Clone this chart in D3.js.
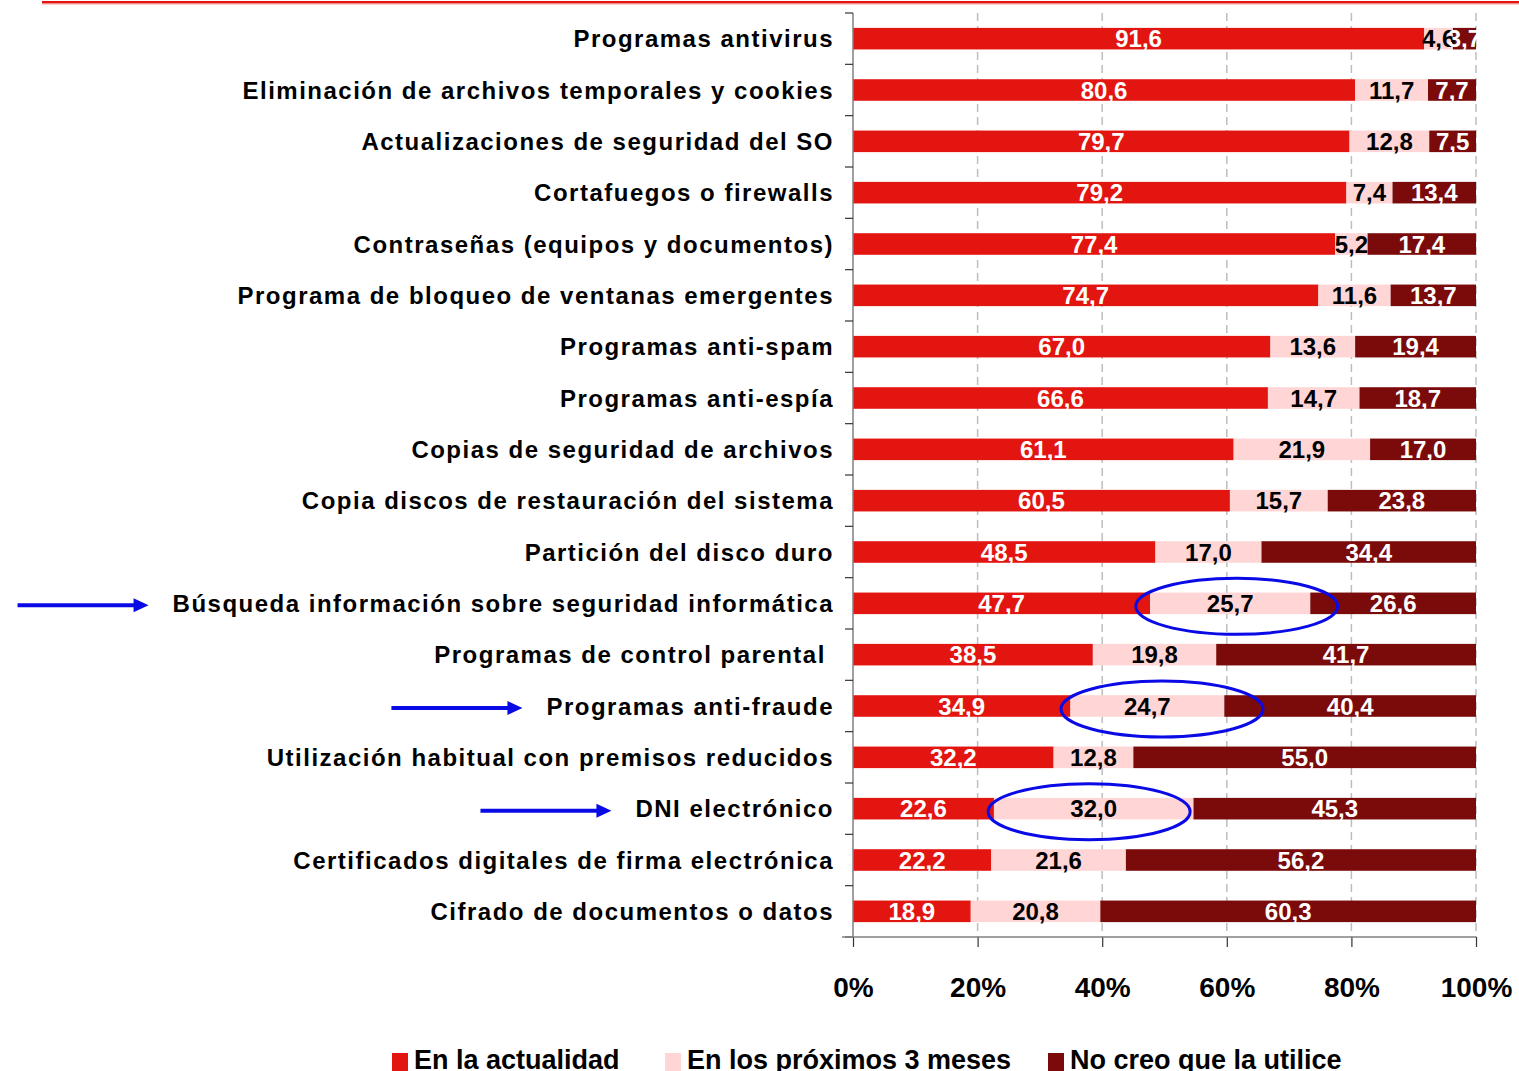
<!DOCTYPE html>
<html>
<head>
<meta charset="utf-8">
<script src="https://cdn.jsdelivr.net/npm/d3@7"></script>
<style>
  body { margin: 0; background: #fff; }
  svg text { font-family: "Liberation Sans", Arial, sans-serif; font-weight: bold; }
</style>
</head>
<body>
<svg id="chart" width="1519" height="1071"></svg>
<script>

    // categories, top to bottom
    const categories = [
        "Programas antivirus",
        "Eliminación de archivos temporales y cookies",
        "Actualizaciones de seguridad del SO",
        "Cortafuegos o firewalls",
        "Contraseñas (equipos y documentos)",
        "Programa de bloqueo de ventanas emergentes",
        "Programas anti-spam",
        "Programas anti-espía",
        "Copias de seguridad de archivos",
        "Copia discos de restauración del sistema",
        "Partición del disco duro",
        "Búsqueda información sobre seguridad informática",
        "Programas de control parental ",
        "Programas anti-fraude",
        "Utilización habitual con premisos reducidos",
        "DNI electrónico",
        "Certificados digitales de firma electrónica",
        "Cifrado de documentos o datos"
    ];

    const seriesNames = ["En la actualidad", "En los próximos 3 meses", "No creo que la utilice"];
    const actualidad = [91.6, 80.6, 79.7, 79.2, 77.4, 74.7, 67.0, 66.6, 61.1, 60.5, 48.5, 47.7, 38.5, 34.9, 32.2, 22.6, 22.2, 18.9];
    const proximos = [4.6, 11.7, 12.8, 7.4, 5.2, 11.6, 13.6, 14.7, 21.9, 15.7, 17.0, 25.7, 19.8, 24.7, 12.8, 32.0, 21.6, 20.8];
    const noCreo = [3.7, 7.7, 7.5, 13.4, 17.4, 13.7, 19.4, 18.7, 17.0, 23.8, 34.4, 26.6, 41.7, 40.4, 55.0, 45.3, 56.2, 60.3];
    const xTicks = [0, 0.2, 0.4, 0.6, 0.8, 1];

    // highlighted rows (blue ellipse + arrow)
    const highlighted = ["Búsqueda información sobre seguridad informática", "Programas anti-fraude", "DNI electrónico"];
    const ellipseCenter = [0.616, 0.496, 0.379];   // share of the axis

    const colors = ["#E31510", "#FFD5D5", "#7B0A0A"];
    const labelColors = ["#fff", "#000", "#fff"];

    const svg = d3.select("#chart");

    const x = d3.scaleLinear().domain([0, 1]).range([853, 1476]);
    const y = d3.scaleBand().domain(categories).range([13, 937]).paddingInner(0.58).paddingOuter(0.29);

    // top red rule
    svg.append("rect").attr("x", 42).attr("y", 1).attr("width", 1477).attr("height", 2.6).attr("fill", "#E31510");
    svg.append("rect").attr("x", 42).attr("y", 3.6).attr("width", 1477).attr("height", 1).attr("fill", "#F5B5B5");

    // dashed grid
    svg.append("g").selectAll("line").data(xTicks.slice(1)).enter().append("line")
        .attr("x1", d => x(d)).attr("x2", d => x(d))
        .attr("y1", 13).attr("y2", 937)
        .attr("stroke", "#BDBDBD").attr("stroke-width", 1.5).attr("stroke-dasharray", "8,5");

    // stacked bars
    const rows = categories.map((c, i) => ({ cat: c, a: actualidad[i], p: proximos[i], n: noCreo[i] }));
    const stack = d3.stack().keys(["a", "p", "n"]).offset(d3.stackOffsetExpand);
    const layers = stack(rows);

    const fmt = v => d3.format(".1f")(v).replace(".", ",");

    const layerG = svg.append("g").selectAll("g").data(layers).enter().append("g")
        .attr("fill", (d, i) => colors[i]);
    layerG.selectAll("rect").data(d => d).enter().append("rect")
        .attr("x", d => x(d[0]))
        .attr("width", d => x(d[1]) - x(d[0]))
        .attr("y", d => y(d.data.cat))
        .attr("height", y.bandwidth());

    // value labels
    const labelG = svg.append("g").selectAll("g").data(layers).enter().append("g")
        .attr("fill", (d, i) => labelColors[i]);
    labelG.selectAll("text").data(d => d.map(v => Object.assign(v, { key: d.key }))).enter().append("text")
        .attr("x", d => x((d[0] + d[1]) / 2))
        .attr("y", d => y(d.data.cat) + y.bandwidth() / 2)
        .attr("dy", "0.36em")
        .attr("text-anchor", "middle")
        .attr("font-size", 24)
        .text(d => fmt(d.data[d.key]));

    // y axis line + ticks between categories
    svg.append("line").attr("x1", 853).attr("x2", 853).attr("y1", 13).attr("y2", 937)
        .attr("stroke", "#808080").attr("stroke-width", 1.5);
    const bounds = d3.range(categories.length + 1).map(k => 13 + k * y.step());
    svg.append("g").selectAll("line").data(bounds).enter().append("line")
        .attr("x1", 845).attr("x2", 853).attr("y1", d => d).attr("y2", d => d)
        .attr("stroke", "#333").attr("stroke-width", 1.2);

    // category labels
    const catLabels = svg.append("g").selectAll("text").data(categories).enter().append("text")
        .attr("x", 834)
        .attr("y", d => y(d) + y.bandwidth() / 2)
        .attr("dy", "0.36em")
        .attr("text-anchor", "end")
        .attr("font-size", 24)
        .attr("letter-spacing", 1.5)
        .style("white-space", "pre")
        .attr("fill", "#000")
        .text(d => d);

    // x axis
    const xAxis = d3.axisBottom(x).tickValues(xTicks).tickFormat(d3.format(".0%"))
        .tickSize(10).tickSizeOuter(0).tickPadding(30);
    const axG = svg.append("g").attr("transform", "translate(0,937)").call(xAxis);
    axG.select(".domain").remove();
    axG.selectAll(".tick line").attr("stroke", "#333").attr("stroke-width", 1.2);
    axG.selectAll(".tick text").attr("font-size", 28).attr("fill", "#000")
        .attr("font-family", "'Liberation Sans', Arial, sans-serif").attr("font-weight", "bold");
    svg.append("line").attr("x1", 842).attr("x2", 1476).attr("y1", 937).attr("y2", 937)
        .attr("stroke", "#808080").attr("stroke-width", 1.5);

    // ellipses around pink segments
    svg.append("g").selectAll("ellipse").data(highlighted).enter().append("ellipse")
        .attr("cx", (d, i) => x(ellipseCenter[i]))
        .attr("cy", d => y(d) + y.bandwidth() / 2 + 3)
        .attr("rx", 101).attr("ry", 28)
        .attr("fill", "none").attr("stroke", "#0A0AE6").attr("stroke-width", 3);

    // arrows pointing to highlighted labels
    const arrowG = svg.append("g");
    catLabels.filter(d => highlighted.includes(d)).each(function (d) {
        const box = this.getBBox();
        const tip = box.x - 24;
        const yy = y(d) + y.bandwidth() / 2 + 2;
        arrowG.append("line").attr("x1", tip - 131).attr("x2", tip - 12).attr("y1", yy).attr("y2", yy)
            .attr("stroke", "#0A0AE6").attr("stroke-width", 4);
        arrowG.append("path")
            .attr("d", "M" + tip + "," + yy + " L" + (tip - 15) + "," + (yy - 7) + " L" + (tip - 15) + "," + (yy + 7) + " Z")
            .attr("fill", "#0A0AE6");
    });

    // legend
    const legendX = [392, 665, 1048];
    const legend = svg.append("g").selectAll("g").data(seriesNames).enter().append("g")
        .attr("transform", (d, i) => "translate(" + legendX[i] + ",1053)");
    legend.append("rect").attr("width", 16).attr("height", 18).attr("fill", (d, i) => colors[i]);
    legend.append("text").attr("x", 22).attr("y", 16).attr("font-size", 27).attr("fill", "#000").text(d => d);

</script>
</body>
</html>
